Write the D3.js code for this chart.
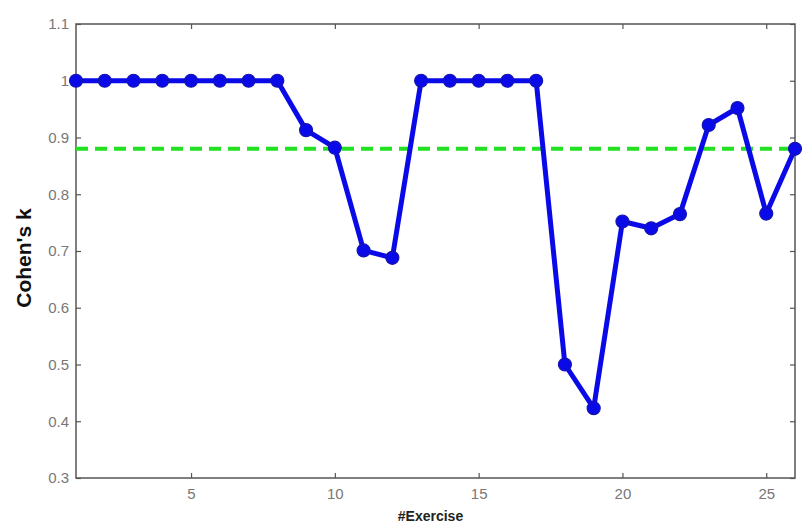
<!DOCTYPE html>
<html><head><meta charset="utf-8">
<script src="https://d3js.org/d3.v7.min.js"></script>
<style>body{margin:0;background:#fff}svg{display:block}</style>
</head><body>
<script>
const exercises = d3.range(1, 27);
const kappa = [1,1,1,1,1,1,1,1,0.913,0.882,0.701,0.688,1,1,1,1,1,0.50,0.423,0.752,0.740,0.765,0.922,0.952,0.766,0.880];
const threshold = 0.88;
const xTicks = [5,10,15,20,25];
const yTicks = [0.3,0.4,0.5,0.6,0.7,0.8,0.9,1,1.1];
const yTickLabels = ["0.3","0.4","0.5","0.6","0.7","0.8","0.9","1","1.1"];

const W = 806, H = 528;
const L = 76, R = 795, T = 24, B = 478;
const svg = d3.select("body").append("svg").attr("width", W).attr("height", H);
const x = d3.scaleLinear().domain([1, 26]).range([L, R]);
const y = d3.scaleLinear().domain([0.3, 1.1]).range([B, T]);

const axisColor = "#555";
const labColor = "#777";
const font = "Arial, 'Liberation Sans', sans-serif";

// box
svg.append("rect").attr("x", L).attr("y", T).attr("width", R - L).attr("height", B - T)
  .attr("fill", "none").attr("stroke", axisColor).attr("stroke-width", 1.5);

const tickLen = 5;
const gx = svg.append("g").attr("transform", `translate(0,${B})`)
  .call(d3.axisBottom(x).tickValues(xTicks).tickSizeInner(-tickLen).tickSizeOuter(0).tickPadding(10));
const gxTop = svg.append("g").attr("transform", `translate(0,${T})`)
  .call(d3.axisTop(x).tickValues(xTicks).tickSizeInner(-tickLen).tickSizeOuter(0).tickFormat(""));
const gy = svg.append("g").attr("transform", `translate(${L},0)`)
  .call(d3.axisLeft(y).tickValues(yTicks).tickSizeInner(-tickLen).tickSizeOuter(0).tickPadding(6)
    .tickFormat((d, i) => yTickLabels[i]));
const gyR = svg.append("g").attr("transform", `translate(${R},0)`)
  .call(d3.axisRight(y).tickValues(yTicks).tickSizeInner(-tickLen).tickSizeOuter(0).tickFormat(""));
[gx, gxTop, gy, gyR].forEach(g => {
  g.select(".domain").remove();
  g.selectAll(".tick line").attr("stroke", axisColor).attr("stroke-width", 1.2);
  g.selectAll("text").attr("fill", labColor).style("font-family", font).style("font-size", "15px");
});
gy.selectAll("text").attr("dx", "-1px");

// threshold dashed line
svg.append("line").attr("x1", L).attr("x2", R).attr("y1", y(threshold)).attr("y2", y(threshold))
  .attr("stroke", "#22e022").attr("stroke-width", 4).attr("stroke-dasharray", "12,7");

// series line
const line = d3.line().x((d, i) => x(exercises[i])).y(d => y(d));
svg.append("path").datum(kappa).attr("d", line).attr("fill", "none")
  .attr("stroke", "#0a0ae8").attr("stroke-width", 5).attr("stroke-linejoin", "round");
svg.selectAll("circle.pt").data(kappa).enter().append("circle").attr("class", "pt")
  .attr("cx", (d, i) => x(exercises[i])).attr("cy", d => y(d)).attr("r", 6.5)
  .attr("fill", "#0a0ae8").attr("stroke", "#1414b0").attr("stroke-width", 1.2);

// axis titles
svg.append("text").attr("x", (L + R) / 2 - 5).attr("y", 521).attr("text-anchor", "middle")
  .style("font-family", font).style("font-weight", "bold").style("font-size", "14px").attr("fill", "#222")
  .text("#Exercise");
svg.append("text").attr("transform", `translate(31,${(T + B) / 2 + 7}) rotate(-90)`).attr("text-anchor", "middle")
  .style("font-family", font).style("font-weight", "bold").style("font-size", "21px").attr("fill", "#111")
  .text("Cohen's k");
</script>
</body></html>
